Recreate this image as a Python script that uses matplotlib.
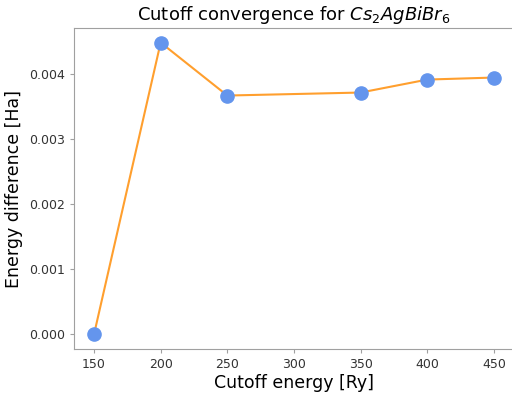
import matplotlib
matplotlib.use('Agg')
import matplotlib.pyplot as plt

# Datos
cutoff = [150, 200, 250, 350, 400, 450]
diff = [0.0, 0.004475, 0.003663, 0.003709, 0.003908, 0.003939]

fig = plt.figure(figsize=(5.12, 3.94), dpi=100)
ax = fig.add_axes([74/512, 45/394, 440/512, 321/394])

ax.plot(cutoff, diff, color='#ff9f2e', lw=1.5, zorder=1)
ax.plot(cutoff, diff, 'o', color='cornflowerblue', markersize=9.5, zorder=2)

ax.set_title('Cutoff convergence for $Cs_2AgBiBr_6$', fontsize=13)
ax.set_xlabel('Cutoff energy [Ry]', fontsize=12.5, labelpad=2)
ax.set_ylabel('Energy difference [Ha]', fontsize=12.5, labelpad=4)
ax.set_yticks([0, 0.001, 0.002, 0.003, 0.004])
ax.set_yticklabels(['0.000', '0.001', '0.002', '0.003', '0.004'])

ax.spines['right'].set_visible(False)
for s in ax.spines.values():
    s.set_color('#a0a0a0')
ax.tick_params(colors='#a0a0a0', labelcolor='#333333', labelsize=9, length=3)

fig.savefig('out.png', dpi=100)
